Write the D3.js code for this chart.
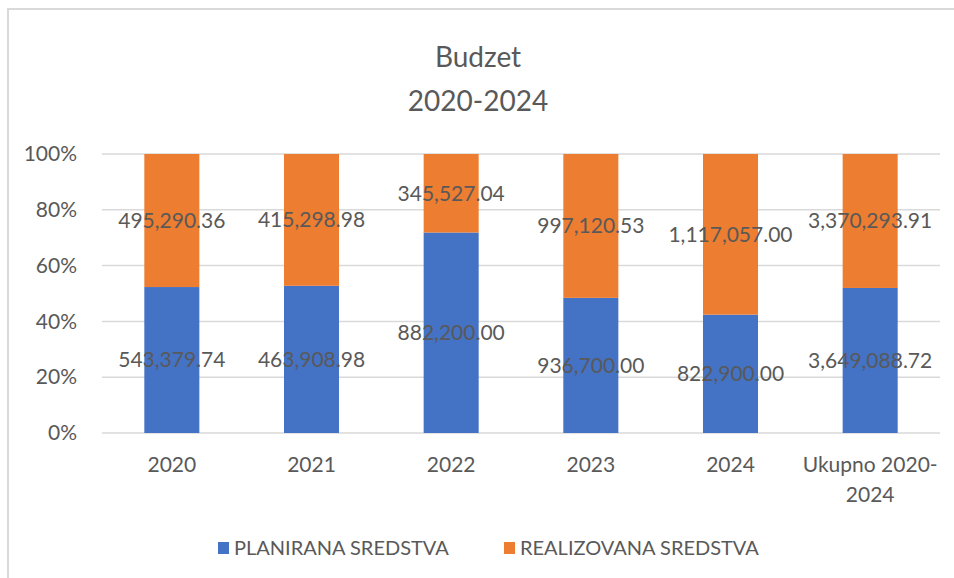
<!DOCTYPE html>
<html>
<head>
<meta charset="utf-8">
<script src="https://cdn.jsdelivr.net/npm/d3@7"></script>
<style>
  body { margin: 0; background: #fff; }
  text { font-family: Lato, "Open Sans", sans-serif; }
</style>
</head>
<body>
<div id="chart"></div>
<script>
// Chart data
const categories = ["2020", "2021", "2022", "2023", "2024", "Ukupno 2020-2024"];
const planirana = [543379.74, 463908.98, 882200.00, 936700.00, 822900.00, 3649088.72];
const realizovana = [495290.36, 415298.98, 345527.04, 997120.53, 1117057.00, 3370293.91];
const seriesNames = ["PLANIRANA SREDSTVA", "REALIZOVANA SREDSTVA"];
const colors = ["#4472C4", "#ED7D31"];
const yTicks = [0, 0.2, 0.4, 0.6, 0.8, 1];

const width = 954, height = 578;
const svg = d3.select("#chart").append("svg")
  .attr("width", width)
  .attr("height", height);

// Outer chart border
svg.append("rect")
  .attr("x", 8).attr("y", 9)
  .attr("width", width).attr("height", height)
  .style("fill", "none")
  .style("stroke", "#d9d9d9")
  .style("stroke-width", "2px");

// Title
const title = svg.append("text")
  .attr("text-anchor", "middle")
  .style("font-size", "28px")
  .style("fill", "#595959");
title.append("tspan").attr("x", 478).attr("y", 67).text("Budzet");
title.append("tspan").attr("x", 478).attr("y", 111).text("2020-2024");

// Scales
const plot = { left: 102, right: 940, top: 154, bottom: 433 };
const x = d3.scaleBand()
  .domain(categories)
  .range([plot.left, plot.right])
  .paddingInner(0.606)
  .paddingOuter(0.303);
const y = d3.scaleLinear().domain([0, 1]).range([plot.bottom, plot.top]);

// Gridlines
svg.append("g")
  .selectAll("line")
  .data(yTicks)
  .join("line")
  .attr("x1", plot.left).attr("x2", plot.right)
  .attr("y1", d => y(d)).attr("y2", d => y(d))
  .style("stroke", "#d9d9d9")
  .style("stroke-width", "1.5px");

// Y axis
const yAxis = svg.append("g")
  .attr("transform", `translate(${plot.left - 22},0)`)
  .call(d3.axisLeft(y).tickValues(yTicks).tickFormat(d3.format(".0%")).tickSize(0));
yAxis.select(".domain").remove();
yAxis.selectAll("text")
  .style("font-size", "21px")
  .style("fill", "#595959");

// X axis
const xAxis = svg.append("g")
  .attr("transform", `translate(0,${plot.bottom})`)
  .call(d3.axisBottom(x).tickSize(0));
xAxis.select(".domain").remove();
xAxis.selectAll("text")
  .style("font-size", "21px")
  .style("fill", "#595959")
  .attr("y", 0)
  .attr("dy", null)
  .each(function (d) {
    const t = d3.select(this);
    t.text(null);
    const parts = d.startsWith("Ukupno") ? ["Ukupno 2020-", "2024"] : [d];
    parts.forEach((p, i) => {
      t.append("tspan").attr("x", 0).attr("y", 39 + i * 30).text(p);
    });
  });

// Stack data
const rows = categories.map((c, i) => {
  const total = planirana[i] + realizovana[i];
  return { cat: c, p: planirana[i], r: realizovana[i], pShare: planirana[i] / total };
});

const fmt = d3.format(",.2f");

// Bars
const bars = svg.append("g");
bars.selectAll(".bar-p")
  .data(rows)
  .join("rect")
  .attr("class", "bar-p")
  .attr("x", d => x(d.cat))
  .attr("width", x.bandwidth())
  .attr("y", d => y(d.pShare))
  .attr("height", d => y(0) - y(d.pShare))
  .style("fill", colors[0]);

bars.selectAll(".bar-r")
  .data(rows)
  .join("rect")
  .attr("class", "bar-r")
  .attr("x", d => x(d.cat))
  .attr("width", x.bandwidth())
  .attr("y", y(1))
  .attr("height", d => y(d.pShare) - y(1))
  .style("fill", colors[1]);

// Data labels
const labels = svg.append("g")
  .style("font-size", "21px")
  .style("fill", "#595959")
  .attr("text-anchor", "middle");

labels.selectAll(".lab-p")
  .data(rows)
  .join("text")
  .attr("x", d => x(d.cat) + x.bandwidth() / 2)
  .attr("y", d => y(d.pShare / 2))
  .attr("dy", "0.35em")
  .text(d => fmt(d.p));

labels.selectAll(".lab-r")
  .data(rows)
  .join("text")
  .attr("x", d => x(d.cat) + x.bandwidth() / 2)
  .attr("y", d => y((d.pShare + 1) / 2))
  .attr("dy", "0.35em")
  .text(d => fmt(d.r));

// Legend
const legend = svg.append("g").attr("transform", "translate(218, 548)");
const legendX = [0, 286];
seriesNames.forEach((name, i) => {
  legend.append("rect")
    .attr("x", legendX[i]).attr("y", -6)
    .attr("width", 11).attr("height", 12)
    .style("fill", colors[i]);
  legend.append("text")
    .attr("x", legendX[i] + 16)
    .attr("y", 0)
    .attr("dy", "0.35em")
    .style("font-size", "20px")
    .style("fill", "#595959")
    .text(name);
});
</script>
</body>
</html>
